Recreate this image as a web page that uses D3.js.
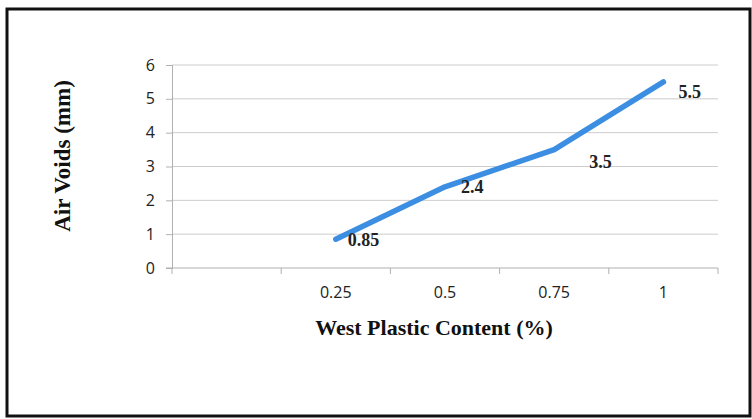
<!DOCTYPE html>
<html>
<head>
<meta charset="utf-8">
<script src="https://cdn.jsdelivr.net/npm/d3@7"></script>
<style>
  html, body { margin: 0; padding: 0; background: #fff; }
  svg { display: block; }
</style>
</head>
<body>
<svg id="chart" width="752" height="419"></svg>
<script>
// Category slots along the x axis (the first slot is left blank)
const categories = ["", "0.25", "0.5", "0.75", "1"];
// Air voids for each plastic content
const contents = ["0.25", "0.5", "0.75", "1"];
const airVoids = [0.85, 2.4, 3.5, 5.5];
const yTicks = [0, 1, 2, 3, 4, 5, 6];

const svg = d3.select("#chart");

// outer frame
svg.append("rect")
  .attr("x", 7).attr("y", 9)
  .attr("width", 743).attr("height", 407)
  .attr("fill", "none").attr("stroke", "#111").attr("stroke-width", 3);

const plotLeft = 172, plotRight = 718, plotTop = 65, plotBottom = 268;

const x = d3.scaleBand().domain(categories).range([plotLeft, plotRight]);
const y = d3.scaleLinear().domain([0, 6]).range([plotBottom, plotTop]);

const tickFont = "'Open Sans', 'Liberation Sans', sans-serif";
const serif = "'Liberation Serif', 'Times New Roman', serif";

// horizontal gridlines
svg.append("g").selectAll("line")
  .data(yTicks.filter(d => d > 0))
  .join("line")
  .attr("x1", plotLeft).attr("x2", plotRight)
  .attr("y1", d => y(d)).attr("y2", d => y(d))
  .attr("stroke", "#cccccc").attr("stroke-width", 1);

// y axis
const yAxis = svg.append("g")
  .attr("transform", `translate(${plotLeft},0)`)
  .call(d3.axisLeft(y).tickValues(yTicks).tickSize(6).tickPadding(11).tickFormat(d3.format("d")));
yAxis.select(".domain").attr("stroke", "#b0b0b0");
yAxis.selectAll(".tick line").attr("stroke", "#b0b0b0");
yAxis.selectAll("text")
  .attr("font-family", tickFont)
  .attr("font-size", 16).attr("fill", "#222");

// x axis: ticks between categories, labels centred in each slot
const xAxis = svg.append("g").attr("transform", `translate(0,${plotBottom})`);
xAxis.append("line")
  .attr("x1", plotLeft - 6).attr("x2", plotRight)
  .attr("y1", 0).attr("y2", 0)
  .attr("stroke", "#b0b0b0");
const bounds = categories.map(c => x(c)).concat([plotRight]);
xAxis.selectAll("line.tk")
  .data(bounds)
  .join("line").attr("class", "tk")
  .attr("x1", d => d).attr("x2", d => d)
  .attr("y1", 0).attr("y2", 6)
  .attr("stroke", "#b0b0b0");
xAxis.selectAll("text")
  .data(categories)
  .join("text")
  .attr("x", d => x(d) + x.bandwidth() / 2)
  .attr("y", 30)
  .attr("text-anchor", "middle")
  .attr("font-family", tickFont)
  .attr("font-size", 16).attr("fill", "#222")
  .text(d => d);

// data line
const pts = contents.map((c, i) => ({ c, v: airVoids[i] }));
const line = d3.line()
  .x(d => x(d.c) + x.bandwidth() / 2)
  .y(d => y(d.v));
svg.append("path")
  .datum(pts)
  .attr("d", line)
  .attr("fill", "none")
  .attr("stroke", "#3b8ee2")
  .attr("stroke-width", 5.5)
  .attr("stroke-linecap", "round")
  .attr("stroke-linejoin", "round");

// value labels (offsets from each point)
const labelOffset = [[12, 7], [16, 6], [35, 18], [15, 16]];
svg.append("g").selectAll("text")
  .data(pts)
  .join("text")
  .attr("x", (d, i) => x(d.c) + x.bandwidth() / 2 + labelOffset[i][0])
  .attr("y", (d, i) => y(d.v) + labelOffset[i][1])
  .attr("font-family", serif)
  .attr("font-weight", "bold")
  .attr("font-size", 18).attr("fill", "#222")
  .text(d => d.v);

// axis titles
svg.append("text")
  .attr("transform", "translate(70,156) rotate(-90)")
  .attr("text-anchor", "middle")
  .attr("font-family", serif)
  .attr("font-weight", "bold")
  .attr("font-size", 23).attr("fill", "#111")
  .text("Air Voids (mm)");

svg.append("text")
  .attr("x", 434).attr("y", 335)
  .attr("text-anchor", "middle")
  .attr("font-family", serif)
  .attr("font-weight", "bold")
  .attr("font-size", 22).attr("fill", "#111")
  .text("West Plastic Content (%)");
</script>
</body>
</html>
